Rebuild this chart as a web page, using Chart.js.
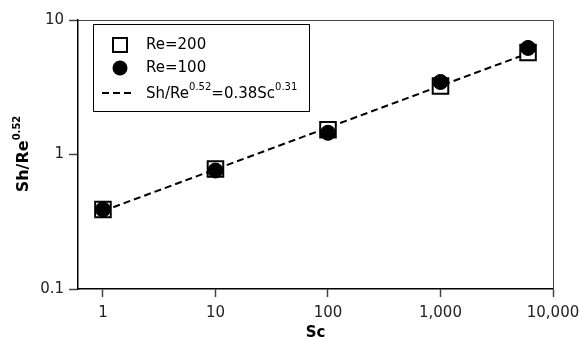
<!DOCTYPE html>
<html>
<head>
<meta charset="utf-8">
<script src="https://cdn.jsdelivr.net/npm/chart.js@4.4.1/dist/chart.umd.min.js"></script>
<style>
html, body { margin: 0; padding: 0; background: #fff; }
</style>
</head>
<body>
<canvas id="myChart" width="580" height="341"></canvas>
<script>
// values
const sc = [1, 10, 100, 1000, 6000];
const re200 = [0.39, 0.78, 1.53, 3.23, 5.73];
const re100 = [0.39, 0.76, 1.45, 3.46, 6.2];
const fitSc = [1, 6000];
const fitVal = [0.38, 5.65];
const xTicks = [1, 10, 100, 1000, 10000];
const yTicks = [0.1, 1, 10];
const legendLabels = ['Re=200', 'Re=100'];

const FONT = 'DejaVu Sans';

// draws text with superscript parts, returns width
function richText(ctx, parts, x, y, size, bold, measureOnly) {
	let w = 0;
	parts.forEach(p => {
		const s = p.sup ? Math.round(size * 0.65) : size;
		ctx.font = (bold ? 'bold ' : '') + s + 'px "' + FONT + '"';
		if (!measureOnly) ctx.fillText(p.t, x + w, p.sup ? y - size * 0.42 : y);
		w += ctx.measureText(p.t).width;
	});
	return w;
}

const decor = {
	id: 'decor',
	afterDraw(chart) {
		const ctx = chart.ctx;
		const a = chart.chartArea;
		ctx.save();
		// top and right side of the frame
		ctx.strokeStyle = '#444';
		ctx.lineWidth = 1;
		ctx.beginPath();
		ctx.moveTo(a.left, a.top + 0.5);
		ctx.lineTo(a.right + 0.5, a.top + 0.5);
		ctx.lineTo(a.right + 0.5, a.bottom);
		ctx.stroke();

		// legend
		ctx.fillStyle = '#fff';
		ctx.fillRect(93, 24, 216, 87);
		ctx.strokeStyle = '#000';
		ctx.strokeRect(93.5, 24.5, 216, 87);

		ctx.lineWidth = 2;
		ctx.strokeRect(113, 38, 14, 14);
		ctx.fillStyle = '#000';
		ctx.beginPath();
		ctx.arc(120, 68, 7.5, 0, Math.PI * 2);
		ctx.fill();
		ctx.setLineDash([7, 4]);
		ctx.beginPath();
		ctx.moveTo(102, 93);
		ctx.lineTo(134, 93);
		ctx.stroke();
		ctx.setLineDash([]);

		ctx.fillStyle = '#000';
		ctx.textBaseline = 'middle';
		ctx.textAlign = 'left';
		ctx.font = '15px "' + FONT + '"';
		ctx.fillText(legendLabels[0], 146, 45);
		ctx.fillText(legendLabels[1], 146, 68);
		richText(ctx, [{t: 'Sh/Re'}, {t: '0.52', sup: true}, {t: '=0.38Sc'}, {t: '0.31', sup: true}], 146, 94, 15, false);

		// y title
		const yParts = [{t: 'Sh/Re'}, {t: '0.52', sup: true}];
		ctx.translate(24, 154);
		ctx.rotate(-Math.PI / 2);
		const w = richText(ctx, yParts, 0, 0, 16, true, true);
		richText(ctx, yParts, -w / 2, 0, 16, true);
		ctx.restore();

		// x title
		ctx.save();
		ctx.fillStyle = '#000';
		ctx.textAlign = 'center';
		ctx.textBaseline = 'middle';
		ctx.font = 'bold 15px "' + FONT + '"';
		ctx.fillText('Sc', (a.left + a.right) / 2, 333);
		ctx.restore();
	}
};

const ctx = document.getElementById('myChart').getContext('2d');
const myChart = new Chart(ctx, {
	type: 'scatter',
	data: {
		datasets: [
			{
				label: legendLabels[1],
				data: sc.map((x, i) => ({x: x, y: re100[i]})),
				pointStyle: 'circle',
				pointRadius: 7.5,
				backgroundColor: '#000',
				borderColor: '#000',
				borderWidth: 1,
				order: 0
			},
			{
				label: legendLabels[0],
				data: sc.map((x, i) => ({x: x, y: re200[i]})),
				pointStyle: 'rect',
				pointRadius: 11,
				backgroundColor: '#fff',
				borderColor: '#000',
				borderWidth: 2,
				order: 1
			},
			{
				label: 'fit',
				data: fitSc.map((x, i) => ({x: x, y: fitVal[i]})),
				showLine: true,
				pointRadius: 0,
				borderColor: '#000',
				borderWidth: 2,
				borderDash: [7, 4],
				order: 2
			}
		]
	},
	options: {
		responsive: false,
		animation: false,
		events: [],
		layout: { padding: { top: 20, right: 27, left: 0, bottom: 0 } },
		plugins: {
			legend: { display: false },
			tooltip: { enabled: false }
		},
		scales: {
			x: {
				type: 'logarithmic',
				min: 0.6,
				max: 10000,
				afterBuildTicks: s => { s.ticks = xTicks.map(v => ({value: v})); },
				afterFit: s => { s.height = 52; s.paddingLeft = 0; s.paddingRight = 0; },
				ticks: {
					callback: v => Number(v).toLocaleString('en-US'),
					font: { family: FONT, size: 15 },
					color: '#222',
					padding: 7,
					maxRotation: 0,
					autoSkip: false
				},
				grid: { drawOnChartArea: false, drawTicks: true, tickLength: 8, color: '#444', tickColor: '#444', tickWidth: 1.5 },
				border: { color: '#000', width: 1.5 }
			},
			y: {
				type: 'logarithmic',
				min: 0.1,
				max: 10,
				afterBuildTicks: s => { s.ticks = yTicks.map(v => ({value: v})); },
				afterFit: s => { s.width = 78; s.paddingTop = 0; s.paddingBottom = 0; },
				ticks: {
					callback: v => String(v),
					font: { family: FONT, size: 15 },
					color: '#222',
					padding: 5,
					autoSkip: false
				},
				grid: { drawOnChartArea: false, drawTicks: true, tickLength: 9, color: '#444', tickColor: '#444', tickWidth: 1.5 },
				border: { color: '#000', width: 1.5 }
			}
		}
	},
	plugins: [decor]
});
</script>
</body>
</html>
